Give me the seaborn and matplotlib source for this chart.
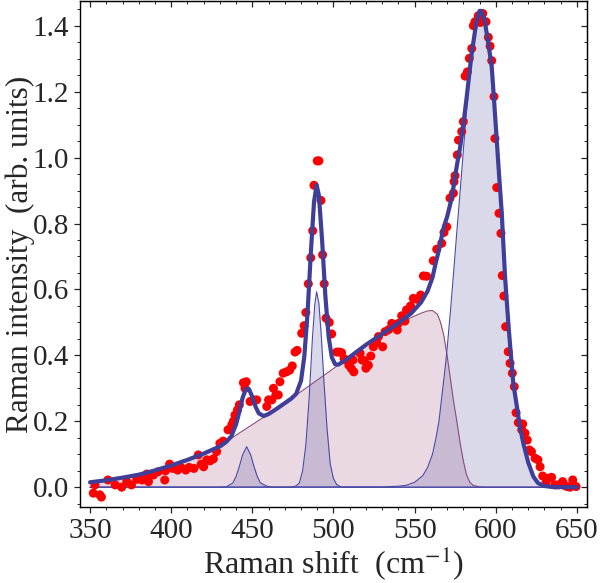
import numpy as np
import pandas as pd
import matplotlib
matplotlib.use("Agg")
import matplotlib.pyplot as plt
from matplotlib.ticker import MultipleLocator
import seaborn as sns

# measured spectrum (red dots)
shift = [352, 353, 356, 357, 361, 365.5, 369.5, 372.6, 375.5, 378.8, 382, 385, 386, 389, 392,
         396, 396.5, 399, 401, 404, 406, 409, 411, 414, 416.7, 418.5, 420, 422, 424, 426, 428,
         430, 432, 435, 437.3, 438.3, 439.3, 440.8, 442, 444.5, 445.5, 446.3, 448.6, 450.5, 452.7,
         458.9, 460, 462, 463, 464.5, 466, 467, 469, 471, 473, 474.6, 476.3, 477.6, 480.4, 481.9,
         483, 484.5, 486, 487.2, 488, 490, 491, 492.3, 493.3, 494.3, 495.4, 497.4, 498.9, 502,
         503.6, 505, 506.5, 508, 509.5, 511, 512, 512.5, 516.4, 517.6, 519, 520, 521.5, 523, 524.6,
         526.5, 527.7, 530.3, 531.8, 534, 535.9, 539.3, 540, 542, 544, 545, 547.5, 549.2, 551.5,
         553.7, 555.4, 557.4, 561.5, 563.6, 566.7, 568.1, 569.8, 571.8, 573.9, 574.3, 574.9, 576.3,
         577, 579, 580, 581.1, 582.5, 583.7, 585.2, 586.2, 587.2, 589.2, 590.5, 592, 594, 595.4,
         596.5, 597.5, 598.9, 599.5, 600.6, 602, 603.2, 604, 605, 606.1, 607.7, 608.8, 610.2, 611.4,
         612.5, 613.9, 616, 616.6, 618, 619.4, 620.7, 622, 624.2, 626, 627.3, 628.9, 631, 632.4,
         634.4, 636.5, 638.5, 641.2, 642.6, 644, 645.7, 647.4, 649.5]
intensity = [-0.018, 0.007, -0.023, -0.03, 0.022, 0.007, 0.0, 0.017, 0.007, 0.024, 0.022, 0.04, 0.017, 0.037, 0.047,
             0.022, 0.05, 0.07, 0.057, 0.052, 0.06, 0.052, 0.06, 0.057, 0.098, 0.07, 0.062, 0.083, 0.08, 0.086, 0.108,
             0.133, 0.14, 0.174, 0.189, 0.2, 0.219, 0.234, 0.25, 0.317, 0.30, 0.32, 0.26, 0.265, 0.265,
             0.245, 0.265, 0.265, 0.30, 0.28, 0.28, 0.32, 0.346, 0.35, 0.355, 0.368, 0.41, 0.415, 0.467, 0.49,
             0.53, 0.617, 0.696, 0.778, 0.916, 0.99, 0.99, 0.87, 0.705, 0.617, 0.513, 0.50, 0.465, 0.41,
             0.41, 0.408, 0.39, 0.386, 0.37, 0.36, 0.386, 0.35, 0.406, 0.386, 0.384, 0.361, 0.37, 0.398, 0.426,
             0.44, 0.457, 0.426, 0.472, 0.478, 0.497, 0.477, 0.497, 0.52, 0.504, 0.538, 0.55, 0.573, 0.57,
             0.583, 0.641, 0.64, 0.687, 0.722, 0.74, 0.773, 0.79, 0.877, 0.892, 0.927, 0.945, 1.008,
             1.053, 1.079, 1.109, 1.247, 1.26, 1.301, 1.331, 1.40, 1.412, 1.43, 1.41, 1.437, 1.412, 1.365,
             1.338, 1.294, 1.185, 1.058, 0.909, 0.831, 0.77, 0.642, 0.58, 0.487, 0.411, 0.376, 0.346, 0.305,
             0.226, 0.196, 0.174, 0.192, 0.164, 0.143, 0.113, 0.108, 0.088, 0.083, 0.062, 0.034, 0.014, 0.027,
             0.03, 0.007, 0.007, 0.017, 0.005, 0.002, 0.0, 0.022, 0.002]

# total fit (thick line)
fit_x = [350, 360, 370, 380, 390, 400, 410, 420, 430, 434, 437, 440, 442, 444, 446, 448, 450, 452, 454,
         457, 460, 465, 470, 474, 477, 480, 482, 484, 486, 488, 489.6, 491, 493, 495, 497, 499, 501, 503,
         506, 510, 520, 530, 540, 548, 554, 558, 561, 563, 565, 566, 568, 570, 572, 574, 576, 578, 580,
         582, 585, 588, 590, 591, 593, 595, 597.5, 599, 600.6, 602, 603.7, 605.7, 608, 610.8, 613, 615,
         617, 620, 623.2, 626, 629.4, 635, 650]
fit_y = [0.015, 0.021, 0.029, 0.038, 0.051, 0.066, 0.083, 0.102, 0.124, 0.138, 0.154, 0.191, 0.229, 0.271,
         0.298, 0.297, 0.274, 0.244, 0.224, 0.216, 0.222, 0.238, 0.255, 0.269, 0.283, 0.323, 0.395, 0.526,
         0.707, 0.865, 0.917, 0.886, 0.748, 0.58, 0.457, 0.394, 0.373, 0.372, 0.381, 0.395, 0.432, 0.465,
         0.498, 0.528, 0.561, 0.595, 0.636, 0.68, 0.72, 0.745, 0.79, 0.82, 0.86, 0.912, 0.975, 1.03, 1.10,
         1.18, 1.31, 1.41, 1.445, 1.445, 1.42, 1.36, 1.276, 1.17, 1.053, 0.95, 0.831, 0.639, 0.48, 0.315,
         0.245, 0.18, 0.133, 0.075, 0.032, 0.013, 0.004, 0.0005, 0.0]

# fit components
peak1_x = [350, 430, 434, 438, 440, 442, 444, 446.5, 449, 451, 453, 455, 459, 463, 650]
peak1_y = [0, 0, 0.001, 0.013, 0.033, 0.063, 0.098, 0.123, 0.098, 0.063, 0.033, 0.013, 0.003, 0, 0]
peak2_x = [350, 474, 477, 479, 481, 483, 485, 487, 488.5, 489.6, 491, 492.5, 494, 496, 498, 500, 502, 505, 650]
peak2_y = [0, 0, 0.004, 0.013, 0.05, 0.13, 0.27, 0.45, 0.555, 0.593, 0.558, 0.46, 0.33, 0.18, 0.07, 0.026, 0.008, 0, 0]
band_x = [350, 360, 370, 380, 390, 400, 410, 420, 430, 440, 450, 460, 470, 480, 490, 500, 510, 520, 530,
          540, 548, 554, 558, 561, 564, 566, 568, 570, 572, 574, 576, 578, 580, 582, 584, 586, 590, 595, 650]
band_y = [0.015, 0.021, 0.029, 0.038, 0.051, 0.066, 0.083, 0.102, 0.124, 0.158, 0.19, 0.222, 0.255, 0.29,
          0.325, 0.36, 0.395, 0.432, 0.465, 0.495, 0.515, 0.528, 0.535, 0.536, 0.525, 0.5, 0.46, 0.40,
          0.33, 0.26, 0.2, 0.135, 0.08, 0.037, 0.015, 0.006, 0.001, 0, 0]
peak4_x = [350, 530, 540, 545, 550, 555, 558, 561, 563, 565, 567, 569, 570, 572, 574, 576, 578, 580, 582,
           585, 588, 590, 591, 593, 595, 597.5, 599, 600.6, 602, 603.7, 605.7, 608, 610.8, 613, 615, 617,
           620, 623.2, 626, 629.4, 635, 650]
peak4_y = [0, 0.001, 0.003, 0.006, 0.015, 0.035, 0.06, 0.10, 0.145, 0.20, 0.285, 0.37, 0.42, 0.53, 0.65,
           0.775, 0.895, 1.02, 1.143, 1.30, 1.405, 1.445, 1.445, 1.42, 1.36, 1.276, 1.17, 1.053, 0.95,
           0.831, 0.639, 0.48, 0.315, 0.245, 0.18, 0.133, 0.075, 0.032, 0.013, 0.004, 0.0005, 0]

dots = pd.DataFrame({"shift": shift, "intensity": intensity})
fit = pd.DataFrame({"shift": fit_x, "intensity": fit_y})

sns.set_style("ticks")
plt.rcParams["font.family"] = ["Liberation Serif", "DejaVu Serif"]
plt.rcParams["mathtext.fontset"] = "stix"

fig = plt.figure(figsize=(6.0, 5.83), dpi=100)
ax = fig.add_axes([0.1333, 0.1298, 0.845, 0.8685])

blue_fill = (0.27, 0.27, 0.6, 0.2)
pink_fill = (0.59, 0.235, 0.43, 0.2)
ax.fill_between(band_x, band_y, 0, color=pink_fill, lw=0, zorder=1)
sns.lineplot(x=band_x, y=band_y, ax=ax, color="#8c4a7c", lw=0.8, sort=False, estimator=None, zorder=2)
for px, py in [(peak1_x, peak1_y), (peak2_x, peak2_y), (peak4_x, peak4_y)]:
    ax.fill_between(px, py, 0, color=blue_fill, lw=0, zorder=1)
    sns.lineplot(x=px, y=py, ax=ax, color="#4a4aa6", lw=0.8, sort=False, estimator=None, zorder=2)

sns.scatterplot(data=dots, x="shift", y="intensity", ax=ax, color="#ff0000", s=42,
                edgecolor="none", zorder=3)
sns.lineplot(data=fit, x="shift", y="intensity", ax=ax, color="#3f3f99", lw=3.0,
             sort=False, estimator=None, zorder=4)

ax.set_xlim(343.8, 656.2)
ax.set_ylim(-0.061, 1.475)
ax.xaxis.set_major_locator(MultipleLocator(50))
ax.xaxis.set_minor_locator(MultipleLocator(10))
ax.yaxis.set_major_locator(MultipleLocator(0.2))
ax.yaxis.set_minor_locator(MultipleLocator(0.05))
ax.yaxis.set_major_formatter(matplotlib.ticker.FormatStrFormatter("%.1f"))
ax.tick_params(which="major", direction="out", length=4.5, width=0.9, labelsize=21)
ax.tick_params(which="minor", direction="out", length=2.5, width=0.7)

# ticks without labels on top and right, pointing inward
top = ax.secondary_xaxis("top")
top.xaxis.set_major_locator(MultipleLocator(50))
top.xaxis.set_minor_locator(MultipleLocator(10))
top.tick_params(which="major", direction="in", length=4.5, width=0.9, labeltop=False)
top.tick_params(which="minor", direction="in", length=2.5, width=0.7)
right = ax.secondary_yaxis("right")
right.yaxis.set_major_locator(MultipleLocator(0.2))
right.yaxis.set_minor_locator(MultipleLocator(0.05))
right.tick_params(which="major", direction="in", length=4.5, width=0.9, labelright=False)
right.tick_params(which="minor", direction="in", length=2.5, width=0.7)

for sp in ax.spines.values():
    sp.set_linewidth(1.0)
    sp.set_color("black")

ax.set_xlabel("Raman shift  (cm$^{-1}$)", fontsize=23, labelpad=0)
ax.set_ylabel("Raman intensity  (arb. units)", fontsize=22.5, labelpad=-2)

fig.savefig("out.png", dpi=100)
